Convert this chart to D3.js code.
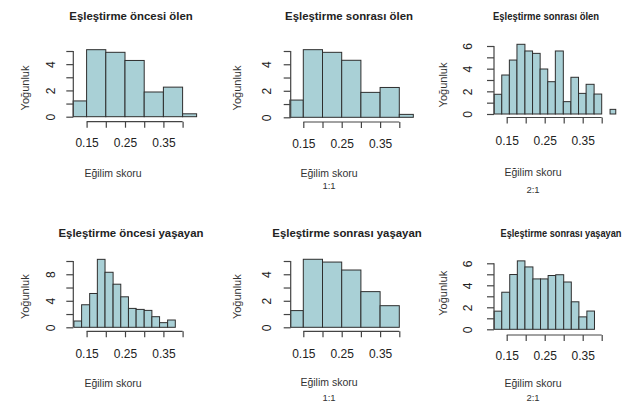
<!DOCTYPE html>
<html>
<head>
<meta charset="utf-8">
<script src="https://cdn.jsdelivr.net/npm/d3@7"></script>
<style>
  body { margin: 0; background: #fff; }
  text { font-family: "Liberation Sans", Arial, sans-serif; fill: #222; }
</style>
</head>
<body>
<svg id="chart" width="625" height="403"></svg>
<script>
// titles / labels
const titles = ["Eşleştirme öncesi ölen", "Eşleştirme sonrası ölen", "Eşleştirme sonrası ölen",
                "Eşleştirme öncesi yaşayan", "Eşleştirme sonrası yaşayan", "Eşleştirme sonrası yaşayan"];
const ratios = ["", "1:1", "2:1", "", "1:1", "2:1"];
const xLabel = "Eğilim skoru";
const yLabel = "Yoğunluk";
const xTicks = [0.15, 0.20, 0.25, 0.30, 0.35, 0.40];
const xTickLabels = [0.15, 0.25, 0.35];

// bin edges
const edgesWideA = [0.115, 0.15, 0.20, 0.25, 0.30, 0.35, 0.40, 0.4365];
const edgesWideB = [0.117, 0.15, 0.20, 0.25, 0.30, 0.35, 0.40];
const edgesNarrowA = [0.117, 0.137, 0.157, 0.177, 0.198, 0.218, 0.238, 0.258, 0.278,
                      0.299, 0.319, 0.339, 0.359, 0.380, 0.400, 0.422, 0.437];
const edgesNarrowB = [0.117, 0.137, 0.158, 0.178, 0.198, 0.219, 0.239, 0.259,
                      0.279, 0.300, 0.320, 0.340, 0.361, 0.381];

// densities
const oncesiOlen = [1.2, 5.1, 4.9, 4.28, 1.88, 2.25, 0.22];
const sonrasiOlen11 = [1.3, 5.1, 4.9, 4.3, 1.88, 2.25, 0.22];
const sonrasiOlen21 = [1.74, 3.44, 4.76, 6.15, 5.56, 5.35, 3.97, 2.85, 5.56, 1.09, 3.24, 1.82, 2.62, 1.76, 0, 0.41];
const oncesiYasayan = [0.95, 3.4, 5.1, 10.25, 8.3, 6.5, 4.6, 2.85, 2.7, 2.55, 1.6, 0.7, 1.1];
const sonrasiYasayan11 = [1.26, 5.13, 4.92, 4.32, 2.69, 1.63];
const sonrasiYasayan21 = [1.65, 3.37, 4.98, 6.22, 5.67, 4.58, 4.58, 4.89, 4.96, 4.3, 2.5, 1.13, 1.66];

const yTicksList = [[0,1,2,3,4,5], [0,1,2,3,4,5], [0,1,2,3,4,5,6],
                    [0,2,4,6,8,10], [0,1,2,3,4,5], [0,1,2,3,4,5,6]];
const yTickLabelsList = [[0,2,4], [0,2,4], [0,2,4,6], [0,4,8], [0,2,4], [0,2,4,6]];

const edgesList = [edgesWideA, edgesWideA, edgesNarrowA, edgesNarrowB, edgesWideB, edgesNarrowB];
const valuesList = [oncesiOlen, sonrasiOlen11, sonrasiOlen21, oncesiYasayan, sonrasiYasayan11, sonrasiYasayan21];

// layout (pixels)
const colX015 = [86.6, 303.3, 506.7];
const colSpan = [96, 96, 95];
const colAxisX = [73.3, 290.7, 494];
const colTickLabX = [50.5, 267, 468];
const colYTitleX = [25, 236.7, 443];
const colXLabX = [113, 329, 533];
const titleX = [131, 349, 546, 131, 347, 561];
const titleY = [15.7, 15.7, 16, 232.7, 233.3, 233.3];
const titleScaleX = [1, 1, 0.86, 1, 1, 0.84];
const titleSize = [11.4, 11.4, 11, 11.4, 11.4, 11];
const baseY = [116.7, 117.3, 114, 327.3, 327.3, 329.3];
const topTickY = [51, 51, 46, 261, 261, 263.3];
const xAxisY = [121.7, 122, 117.5, 331.3, 331.3, 335];
const xTickLabY = [143.3, 144, 141, 354, 354, 356];
const xLabY = [173, 173, 171.7, 382.7, 382.3, 382.7];
const ratioY = [0, 185, 189, 0, 397.7, 397.3];
const yTitleY = [88, 88, 85, 296.7, 296.7, 293.3];

const svg = d3.select("#chart");

for (let i = 0; i < 6; i++) {
  const c = i % 3;
  const edges = edgesList[i], vals = valuesList[i];
  const yTicks = yTicksList[i];

  let x = d3.scaleLinear()
      .domain([0.15, 0.40])
      .range([colX015[c], colX015[c] + colSpan[c]]);

  let y = d3.scaleLinear()
      .domain([0, d3.max(yTicks)])
      .range([baseY[i], topTickY[i]]);

  let g = svg.append("g");

  let bins = vals.map(function(v, k) { return {x0: edges[k], x1: edges[k + 1], v: v}; });

  g.selectAll("rect")
    .data(bins)
    .enter()
    .append("rect")
      .attr("x", function(d) { return x(d.x0); })
      .attr("y", function(d) { return y(d.v); })
      .attr("width", function(d) { return x(d.x1) - x(d.x0); })
      .attr("height", function(d) { return y(0) - y(d.v); })
      .attr("fill", "#a9d0d6")
      .attr("stroke", "#2e2e2e")
      .attr("stroke-width", 1);

  // x axis (R style, offset below)
  let xAxis = d3.axisBottom(x)
      .tickValues(xTicks)
      .tickSize(6)
      .tickFormat(function(d) { return xTickLabels.some(function(t) { return Math.abs(t - d) < 1e-9; }) ? d3.format(".2f")(d) : ""; });

  let gx = g.append("g")
      .attr("transform", `translate(0,${xAxisY[i]})`)
      .call(xAxis);
  gx.select(".domain").attr("d", `M${x(0.15)},0H${x(0.40)}`);
  gx.selectAll("line, path").attr("stroke", "#444").attr("stroke-width", 1.2);
  gx.selectAll("text")
      .attr("y", xTickLabY[i] - xAxisY[i])
      .attr("dy", null)
      .attr("dominant-baseline", "central")
      .style("font-size", "12px")
      .style("font-family", "'Liberation Sans', Arial, sans-serif")
      .attr("fill", "#222");

  // y axis
  let yAxis = d3.axisLeft(y)
      .tickValues(yTicks)
      .tickSize(7)
      .tickFormat(function(d) { return yTickLabelsList[i].indexOf(d) >= 0 ? d : ""; });

  let gy = g.append("g")
      .attr("transform", `translate(${colAxisX[c]},0)`)
      .call(yAxis);
  gy.select(".domain").attr("d", `M0,${y(0)}V${y(d3.max(yTicks))}`);
  gy.selectAll("line, path").attr("stroke", "#444").attr("stroke-width", 1.2);
  gy.selectAll(".tick text")
      .attr("x", null)
      .attr("dy", null)
      .attr("transform", `translate(${colTickLabX[c] - colAxisX[c]},0) rotate(-90)`)
      .attr("text-anchor", "middle")
      .attr("dominant-baseline", "central")
      .style("font-size", "12px")
      .style("font-family", "'Liberation Sans', Arial, sans-serif")
      .attr("fill", "#222");

  // title
  g.append("text")
      .attr("transform", `translate(${titleX[i]},${titleY[i]}) scale(${titleScaleX[i]},1)`)
      .attr("text-anchor", "middle")
      .attr("dominant-baseline", "central")
      .style("font-weight", "bold")
      .style("font-size", titleSize[i] + "px")
      .text(titles[i]);

  g.append("text")
      .attr("transform", `translate(${colYTitleX[c]},${yTitleY[i]}) rotate(-90)`)
      .attr("text-anchor", "middle")
      .attr("dominant-baseline", "central")
      .style("font-size", "11px")
      .style("fill", "#333")
      .text(yLabel);

  g.append("text")
      .attr("x", colXLabX[c])
      .attr("y", xLabY[i])
      .attr("text-anchor", "middle")
      .attr("dominant-baseline", "central")
      .style("font-size", "10.5px")
      .style("fill", "#333")
      .text(xLabel);

  if (ratios[i] != "") {
    g.append("text")
        .attr("x", colXLabX[c])
        .attr("y", ratioY[i])
        .attr("text-anchor", "middle")
        .attr("dominant-baseline", "central")
        .style("font-size", "9.5px")
        .style("fill", "#333")
        .text(ratios[i]);
  }
}
</script>
</body>
</html>
